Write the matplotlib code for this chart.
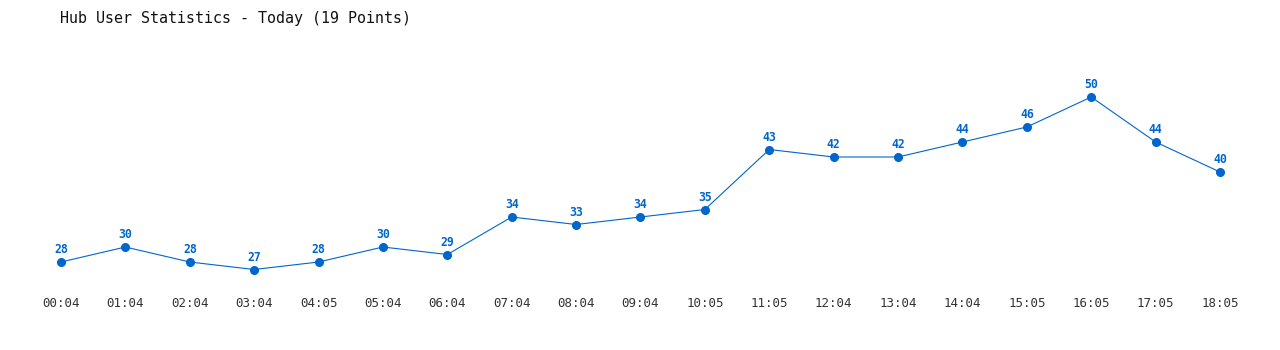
import matplotlib
matplotlib.use("Agg")
import matplotlib.pyplot as plt

# data
horas = ["00:04", "01:04", "02:04", "03:04", "04:05", "05:04", "06:04", "07:04",
         "08:04", "09:04", "10:05", "11:05", "12:04", "13:04", "14:04", "15:05",
         "16:05", "17:05", "18:05"]
usuarios = [28, 30, 28, 27, 28, 30, 29, 34, 33, 34, 35, 43, 42, 42, 44, 46, 50, 44, 40]

azul = "#0066cc"
fonte = "DejaVu Sans Mono"

fig = plt.figure(figsize=(12.8, 3.5), dpi=100)
ax = fig.add_axes([0, 60 / 350, 1, 290 / 350])

x = list(range(len(usuarios)))
ax.plot(x, usuarios, color=azul, lw=0.8, marker="o", ms=5.5, mec=azul, mfc=azul)

for i, v in zip(x, usuarios):
    ax.annotate(str(v), (i, v), xytext=(0, 9), textcoords="offset points",
                ha="center", va="center", color=azul, fontsize=8.3,
                fontweight="bold", family=fonte)

ax.set_xlim(-0.947, 18.932)
ax.set_ylim(24.267, 62.933)
ax.set_xticks(x)
ax.set_xticklabels(horas, family=fonte, fontsize=9, color="#333333")
ax.tick_params(axis="x", length=0, pad=5)
ax.set_yticks([])
for s in ax.spines.values():
    s.set_visible(False)

fig.text(60 / 1280, 1 - 18 / 350, "Hub User Statistics - Today (19 Points)",
         ha="left", va="center", family=fonte, fontsize=10.8, color="#111111")

fig.savefig("out.png", dpi=100)
